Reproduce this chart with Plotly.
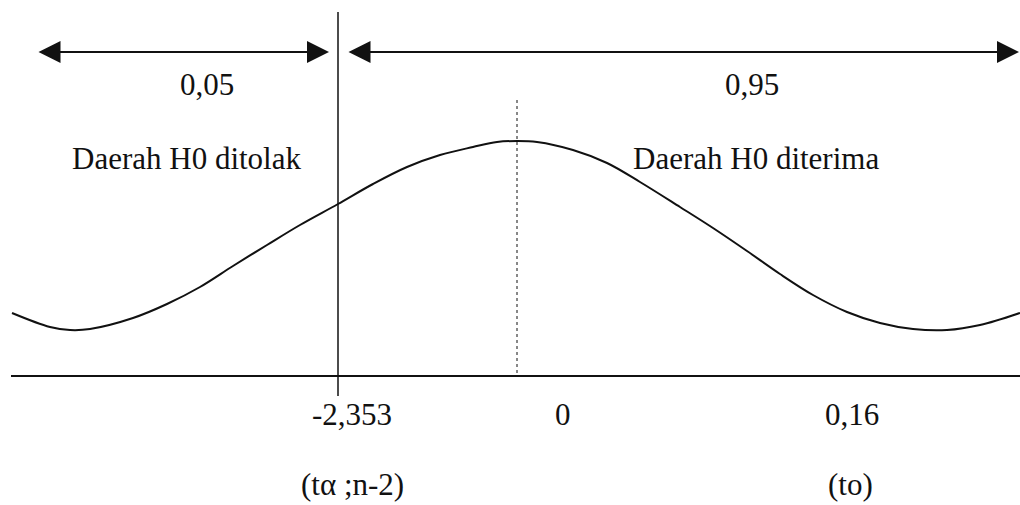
import plotly.graph_objects as go

# Sketch of the t-test decision regions (canvas units, y grows downward)
curve_x = [12, 50, 70, 90, 133, 167, 200, 233, 267, 300, 338, 373, 407, 440, 473, 497,
           517, 537, 573, 607, 640, 680, 713, 747, 780, 813, 847, 880, 913, 947, 980, 1020]
curve_y = [313, 327, 330, 329, 318, 304, 287, 266, 245, 225, 204, 184, 167, 155, 147, 142,
           141, 142, 150, 163, 182, 207, 228, 251, 274, 295, 312, 323, 329, 330, 325, 313]

prob_labels = ["0,05", "0,95"]
region_labels = ["Daerah H0 ditolak", "Daerah H0 diterima"]
tick_labels = ["-2,353", "0", "0,16"]
sub_labels = ["(tα ;n-2)", "(to)"]

INK = "#111111"
FONT = dict(family="Liberation Serif", size=31, color=INK)

fig = go.Figure()

# bell-shaped curve
fig.add_trace(go.Scatter(x=curve_x, y=curve_y, mode="lines",
                         line=dict(color=INK, width=2, shape="spline", smoothing=1.0),
                         hoverinfo="skip", showlegend=False))

shapes = [
    # baseline
    dict(type="line", x0=11, x1=1020, y0=376, y1=376, line=dict(color=INK, width=2)),
    # critical value line
    dict(type="line", x0=338, x1=338, y0=12, y1=396, line=dict(color=INK, width=1.5)),
    # centre line (dotted)
    dict(type="line", x0=517, x1=517, y0=100, y1=376, line=dict(color=INK, width=1, dash="dot")),
]

annotations = []
# double-headed arrows spanning the two regions
for x_start, x_end in [(37, 329), (347, 1019)]:
    annotations.append(dict(x=x_end, y=52, ax=x_start, ay=52, xref="x", yref="y",
                            axref="x", ayref="y", text="", showarrow=True,
                            arrowhead=2, startarrowhead=2, arrowside="end+start",
                            arrowsize=2.2, startarrowsize=2.2, arrowwidth=2,
                            arrowcolor=INK))

text_items = [
    (prob_labels[0], 207, 84),
    (prob_labels[1], 752, 84),
    (region_labels[0], 186, 158),
    (region_labels[1], 756, 158),
    (tick_labels[0], 352, 414),
    (tick_labels[1], 563, 414),
    (tick_labels[2], 852, 414),
    (sub_labels[0], 352, 484),
    (sub_labels[1], 850, 484),
]
for txt, tx, ty in text_items:
    annotations.append(dict(x=tx, y=ty, xref="x", yref="y", text=txt, showarrow=False,
                            font=FONT, xanchor="center", yanchor="middle", borderpad=0))

fig.update_layout(
    width=1020, height=505,
    margin=dict(l=0, r=0, t=0, b=0),
    paper_bgcolor="white", plot_bgcolor="white",
    font=dict(family="Liberation Serif"),
    xaxis=dict(range=[0, 1020], visible=False, fixedrange=True),
    yaxis=dict(range=[505, 0], visible=False, fixedrange=True),
    shapes=shapes, annotations=annotations,
    showlegend=False,
)

fig.write_html("out.html")
